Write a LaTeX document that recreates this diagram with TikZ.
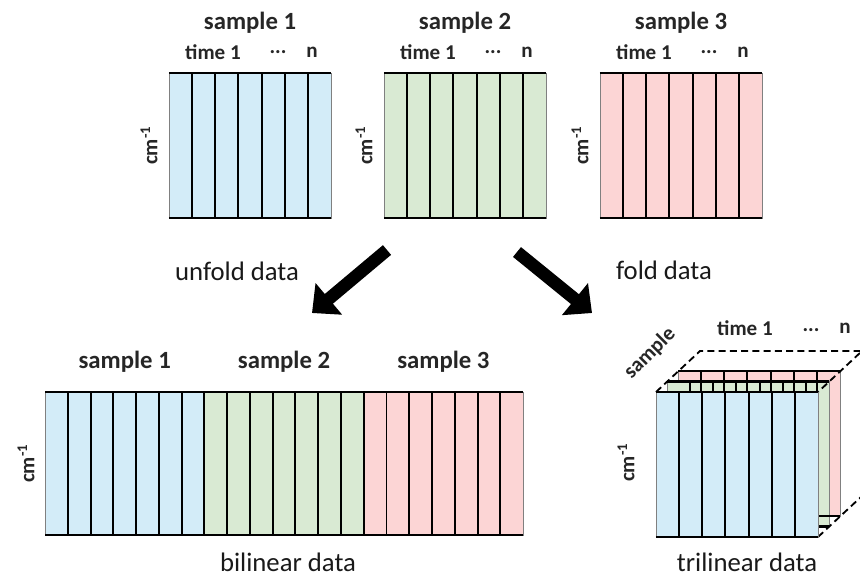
\documentclass[tikz,border=0pt]{standalone}
\usepackage{fontspec}
\setmainfont{Carlito}
\usetikzlibrary{positioning,calc,arrows.meta}

\definecolor{specblue}{RGB}{211,236,248}
\definecolor{specgreen}{RGB}{217,234,211}
\definecolor{specred}{RGB}{252,213,213}

\tikzset{
    block/.style={
            rectangle,
            inner sep=0pt,
            outer sep=0pt,
            draw=black!50,
            line width=0.5pt,
            minimum width=4.05cm,
            minimum height=3.625cm
        },
    wideblock/.style={
            block,
            minimum width=3.983cm,
            minimum height=3.575cm
        },
    divider/.style={line width=1.4pt, black},
    rim/.style={line width=1.6pt, black},
    samplelabel/.style={font=\fontsize{17.6}{20}\selectfont\bfseries, text=black!85},
    timelabel/.style={font=\fontsize{15}{17}\selectfont\bfseries, text=black!85},
    unitlabel/.style={font=\fontsize{15}{17}\selectfont\bfseries, text=black!85, rotate=90},
    caption/.style={font=\fontsize{19}{22}\selectfont, text=black!90},
    bigarrow/.style={line width=9pt, -{Triangle[length=0.55cm,width=1cm]}},
    hidden/.style={line width=1.3pt, dash pattern=on 5pt off 3pt},
}

\begin{document}
\begin{tikzpicture}[x=0.025cm,y=-0.025cm]
  \useasboundingbox (0,0) rectangle (860,581);

  % Samples
  \node[block, fill=specblue]  (s1) at (250,145.5) {};
  \node[block, fill=specgreen] (s2) at (465,145.5) {};
  \node[block, fill=specred]   (s3) at (681,145.5) {};
  \foreach \blk/\name in {s1/sample 1, s2/sample 2, s3/sample 3} {
      \node[samplelabel] (\blk-name) at ($(\blk.north)+(0,-50)$) {\name};
      \node[timelabel] (\blk-first) at ($(\blk.north west)+(44,-21)$) {time 1};
      \node[timelabel] (\blk-dots) at ($(\blk.north west)+(109,-21)$) {...};
      \node[timelabel] (\blk-last) at ($(\blk.north west)+(143,-21)$) {n};
      \node[unitlabel] (\blk-unit) at ($(\blk.west)+(-20,0)$) {cm\textsuperscript{-1}};
    }

  % Unfold and fold
  \coordinate (unfold-tail) at (387,250);
  \coordinate (unfold-tip) at (312,313);
  \coordinate (fold-tail) at (517,252);
  \coordinate (fold-tip) at (592,313);
  \draw[bigarrow] (unfold-tail) -- (unfold-tip);
  \draw[bigarrow] (fold-tail) -- (fold-tip);
  \node[caption] (unfold) at (237,271) {unfold data};
  \node[caption] (fold) at (664,270) {fold data};

  % Bilinear data
  \node[wideblock, fill=specblue] (b1) at (124.7,463.5) {};
  \node[wideblock, fill=specgreen, right=0pt of b1] (b2) {};
  \node[wideblock, fill=specred, right=0pt of b2] (b3) {};
  \foreach \blk/\name in {b1/sample 1, b2/sample 2, b3/sample 3}
    \node[samplelabel] (\blk-name) at ($(\blk.north)+(0,-30)$) {\name};
  \draw[divider] (b1.north east) -- (b1.south east) (b2.north east) -- (b2.south east);
  \node[unitlabel] (b1-unit) at ($(b1.west)+(-19,0)$) {cm\textsuperscript{-1}};
  \node[caption] (bilinear) at (288,562) {bilinear data};

  % Trilinear data
  \coordinate (front) at (737,464.5);
  \node[block, fill=specred]   (t3) at ($(front)+(22,-21)$) {};
  \node[block, fill=specgreen] (t2) at ($(front)+(11,-10.5)$) {};
  \coordinate (bk-nw) at ($(front)+(-81,-72.5)+(44,-41)$);
  \coordinate (bk-ne) at ($(front)+(81,-72.5)+(44,-41)$);
  \coordinate (bk-se) at ($(front)+(81,72.5)+(44,-41)$);
  \draw[hidden] ($(front)+(-81,-72.5)$) -- (bk-nw) -- (bk-ne) -- ($(front)+(81,-72.5)$);
  \draw[hidden] ($(front)+(81,72.5)$) -- (bk-se);
  \foreach \blk in {t3,t2} {
      \foreach \i in {1,...,6}
        \draw[divider] ($(\blk.north west)!\i/7!(\blk.north east)$) -- ($(\blk.south west)!\i/7!(\blk.south east)$);
      \draw[rim] (\blk.north west) -- (\blk.north east) (\blk.south west) -- (\blk.south east);
    }
  \node[block, fill=specblue] (t1) at (front) {};
  \node[timelabel, rotate=45] (t-sample) at ($(t1.north west)!0.5!(bk-nw)+(-28,-18)$) {sample};
  \node[timelabel] (t-first) at ($(bk-nw)+(45,-23)$) {time 1};
  \node[timelabel] (t-dots) at ($(bk-nw)+(111,-21)$) {...};
  \node[timelabel] (t-last) at ($(bk-nw)+(145,-23)$) {n};
  \node[unitlabel] (t1-unit) at ($(t1.west)+(-30,-2)$) {cm\textsuperscript{-1}};
  \node[caption] (trilinear) at (747,562) {trilinear data};

  % Columns
  \foreach \blk in {s1,s2,s3,b1,b2,b3,t1} {
      \foreach \i in {1,...,6}
        \draw[divider] ($(\blk.north west)!\i/7!(\blk.north east)$) -- ($(\blk.south west)!\i/7!(\blk.south east)$);
      \draw[rim] (\blk.north west) -- (\blk.north east) (\blk.south west) -- (\blk.south east);
    }
\end{tikzpicture}
\end{document}
